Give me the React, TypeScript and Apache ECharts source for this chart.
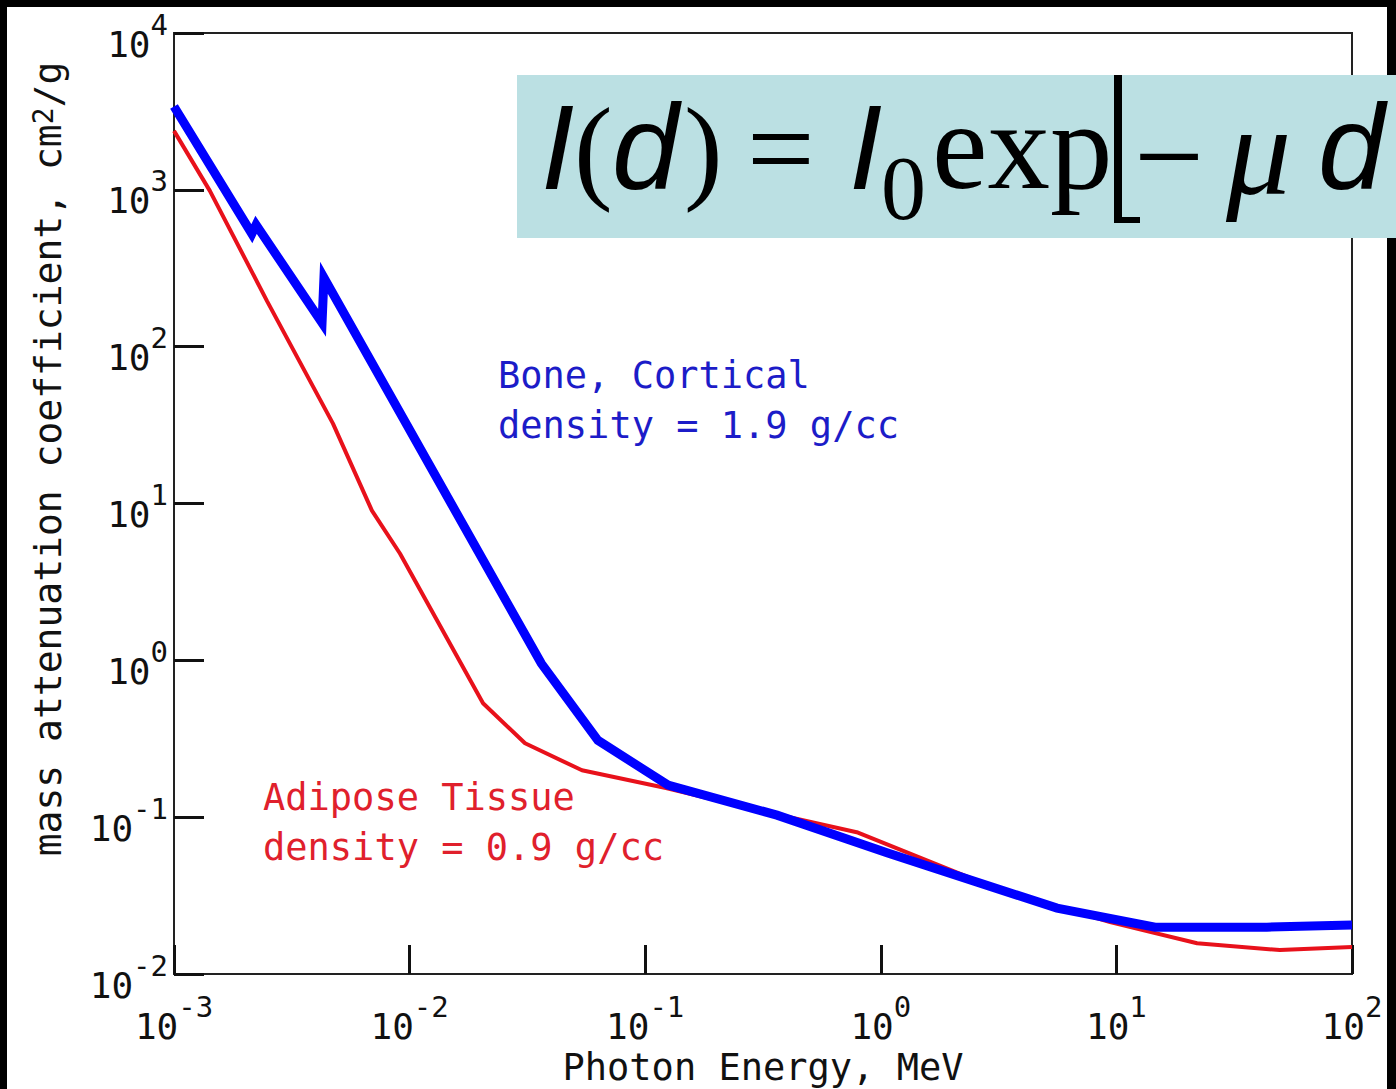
import React, { useEffect, useRef } from "react";
import * as echarts from "echarts";

// ---- data ----
const boneEnergy = [0.001, 0.00214, 0.00223, 0.00425, 0.00433, 0.0362, 0.063, 0.125, 0.3625, 1.07, 5.6, 14.6, 43.5, 100];
const boneMu = [3400, 525, 598, 142, 275, 0.957, 0.309, 0.16, 0.103, 0.059, 0.0263, 0.0199, 0.0199, 0.0205];

const adiposeEnergy = [0.001, 0.00142, 0.00248, 0.00473, 0.00692, 0.0091, 0.0205, 0.0309, 0.0539, 0.1238, 0.2786, 0.79, 2.72, 5.38, 9.4, 22, 49.4, 100];
const adiposeMu = [2376, 985, 196, 32.3, 9.0, 4.8, 0.532, 0.296, 0.199, 0.153, 0.114, 0.0802, 0.038, 0.0275, 0.0214, 0.0157, 0.0142, 0.01485];

const xRange = [0.001, 100];
const yRange = [0.01, 10000];

const boneLabel = ["Bone, Cortical", "density = 1.9 g/cc"];
const adiposeLabel = ["Adipose Tissue", "density = 0.9 g/cc"];
const xTitle = "Photon Energy, MeV";

const MONO = "'DejaVu Sans Mono', monospace";
const SERIF = "'Liberation Serif', 'Times New Roman', serif";
const SANS = "'Liberation Sans', Arial, sans-serif";

const pow10Label = (v: number) => {
  const e = Math.round(Math.log10(v));
  return `{b|10}{s|${e}}`;
};

const labelRich = {
  b: { fontFamily: MONO, fontSize: 36, color: "#111", lineHeight: 52, verticalAlign: "bottom" },
  s: { fontFamily: MONO, fontSize: 29, color: "#111", lineHeight: 30, verticalAlign: "top" },
};

export default function App() {
  const ref = useRef<HTMLDivElement>(null);

  useEffect(() => {
    if (!ref.current) return;
    const chart = echarts.init(ref.current, null, { renderer: "svg" });

    const ft = (text: string, x: number, y: number, size: number, family: string, italic = false) => ({
      type: "text",
      z: 101,
      style: {
        text,
        x,
        y,
        fill: "#000",
        font: `${italic ? "italic " : ""}${size}px ${family}`,
        textAlign: "left",
        textVerticalAlign: "middle",
      },
    });

    const option: any = {
      animation: false,
      grid: {
        left: 174,
        right: 44,
        top: 33,
        bottom: 115,
        outerBoundsMode: "none",
        containLabel: false,
        show: true,
        borderColor: "#222",
        borderWidth: 2,
        backgroundColor: "transparent",
      },
      xAxis: {
        type: "log",
        logBase: 10,
        min: xRange[0],
        max: xRange[1],
        name: xTitle,
        nameLocation: "middle",
        nameGap: 73,
        nameTextStyle: { fontFamily: MONO, fontSize: 37, color: "#111" },
        axisLine: { show: true, lineStyle: { color: "#222", width: 2 } },
        axisTick: { show: true, inside: true, length: 29, lineStyle: { color: "#111", width: 3 } },
        splitLine: { show: false },
        minorTick: { show: false },
        axisLabel: {
          formatter: pow10Label,
          margin: 18,
          rich: labelRich,
        },
      },
      yAxis: {
        type: "log",
        logBase: 10,
        min: yRange[0],
        max: yRange[1],
        name: "mass attenuation coefficient, cm{sup|2}/g",
        nameLocation: "middle",
        nameGap: 107,
        nameTextStyle: {
          fontFamily: MONO,
          fontSize: 38,
          color: "#111",
          padding: [0, 0, 0, 89],
          rich: {
            sup: { fontFamily: MONO, fontSize: 28, color: "#111", lineHeight: 26, verticalAlign: "top" },
          },
        },
        axisLine: { show: true, lineStyle: { color: "#222", width: 2 } },
        axisTick: { show: true, inside: true, length: 30, lineStyle: { color: "#111", width: 3 } },
        splitLine: { show: false },
        minorTick: { show: false },
        axisLabel: {
          formatter: pow10Label,
          margin: 6,
          padding: [6, 0, 0, 0],
          rich: labelRich,
        },
      },
      series: [
        {
          name: "Adipose Tissue",
          type: "line",
          symbol: "none",
          data: adiposeEnergy.map((e, i) => [e, adiposeMu[i]]),
          lineStyle: { color: "#e8111b", width: 4 },
          z: 3,
        },
        {
          name: "Bone, Cortical",
          type: "line",
          symbol: "none",
          data: boneEnergy.map((e, i) => [e, boneMu[i]]),
          lineStyle: { color: "#0000ff", width: 9, join: "miter" },
          z: 4,
        },
      ],
      graphic: [
        { type: "rect", z: -10, shape: { x: 7, y: 7, width: 1380, height: 1082 }, style: { fill: "#fff" } },
        // annotations
        { type: "text", z: 50, style: { text: boneLabel[0], x: 498, y: 375, fill: "#1c1cc8", font: `37px ${MONO}`, textVerticalAlign: "middle" } },
        { type: "text", z: 50, style: { text: boneLabel[1], x: 498, y: 425, fill: "#1c1cc8", font: `37px ${MONO}`, textVerticalAlign: "middle" } },
        { type: "text", z: 50, style: { text: adiposeLabel[0], x: 263, y: 797, fill: "#e0202c", font: `37px ${MONO}`, textVerticalAlign: "middle" } },
        { type: "text", z: 50, style: { text: adiposeLabel[1], x: 263, y: 847, fill: "#e0202c", font: `37px ${MONO}`, textVerticalAlign: "middle" } },
        // formula box
        { type: "rect", z: 100, shape: { x: 517, y: 75, width: 879, height: 163 }, style: { fill: "#bbe0e3" } },
        ft("I", 541, 147, 120, SANS, true),
        ft("(", 574, 149, 116, SERIF),
        ft("d", 612, 147, 120, SANS, true),
        ft(")", 684, 149, 116, SERIF),
        ft("=", 747, 148, 120, SERIF),
        ft("I", 849, 147, 120, SANS, true),
        ft("0", 881, 188, 90, SERIF),
        ft("exp", 932, 146, 125, SERIF),
        { type: "rect", z: 101, shape: { x: 1114, y: 75, width: 8, height: 148 }, style: { fill: "#000" } },
        { type: "rect", z: 101, shape: { x: 1114, y: 217, width: 26, height: 6 }, style: { fill: "#000" } },
        ft("\u2212", 1134, 156, 124, SERIF),
        ft("\u03bc", 1226, 150, 130, SERIF, true),
        ft("d", 1318, 147, 120, SANS, true),
      ],
    };

    chart.setOption(option);
    return () => chart.dispose();
  }, []);

  return (
    <div
      ref={ref}
      style={{ position: "absolute", left: 0, top: 0, width: 1396, height: 1089, background: "#000" }}
    />
  );
}
